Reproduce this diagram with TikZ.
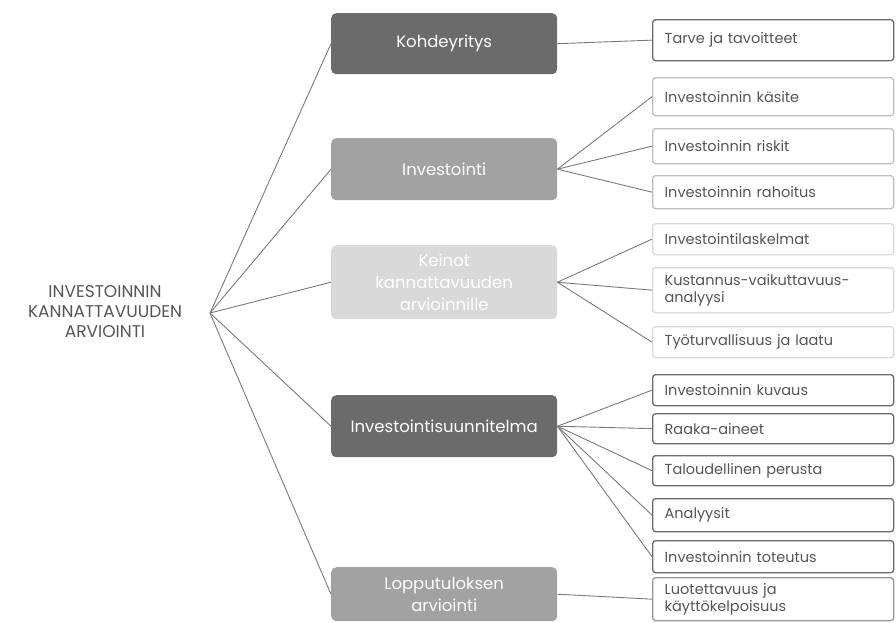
\documentclass[tikz,border=0pt]{standalone}
\usepackage{fontspec}
\setmainfont{Poppins}
\definecolor{dk}{HTML}{6B6B6B}
\definecolor{md}{HTML}{A2A2A2}
\definecolor{lt}{HTML}{D9D9D9}
\definecolor{ln}{HTML}{7A7A7A}
\definecolor{tx}{HTML}{555555}
\begin{document}
\begin{tikzpicture}[x=1pt,y=-1pt,
  mainbox/.style={rectangle, rounded corners=5pt, anchor=north west, minimum width=226pt, inner sep=2pt, text=white, align=center, font=\fontsize{16.5}{22}\selectfont},
  leaf/.style={draw, rounded corners=3pt, line width=1.3pt, fill=white, anchor=north west, minimum width=241pt, inner xsep=12pt, inner ysep=1pt, text width=217pt, align=left, text=tx, font=\fontsize{14.5}{17}\selectfont},
  conn/.style={draw=ln, line width=0.9pt}]
\useasboundingbox (0,0) rectangle (896,622);
\node[text=tx, align=center, font=\fontsize{17}{20}\selectfont] (root) at (105,312) {INVESTOINNIN\\KANNATTAVUUDEN\\ARVIOINTI};
\coordinate (hub) at (210,313);
% level 1
\node[mainbox, fill=dk, minimum height=61pt] (k) at (331,13) {Kohdeyritys};
\node[mainbox, fill=md, minimum height=62pt] (i) at (331,138) {Investointi};
\node[mainbox, fill=lt, minimum height=74pt] (m) at (331,245) {Keinot\\kannattavuuden\\arvioinnille};
\node[mainbox, fill=dk, minimum height=62pt] (s) at (331,395) {Investointisuunnitelma};
\node[mainbox, fill=md, minimum height=54pt] (l) at (331,567) {Lopputuloksen\\arviointi};
% leaves
\node[leaf, draw=dk, minimum height=41pt] (t1) at (652,19) {Tarve ja tavoitteet};
\node[leaf, draw=md!70, minimum height=38pt] (i1) at (652,77) {Investoinnin käsite};
\node[leaf, draw=md!70, minimum height=35pt] (i2) at (652,128) {Investoinnin riskit};
\node[leaf, draw=md!70, minimum height=33pt] (i3) at (652,175) {Investoinnin rahoitus};
\node[leaf, draw=lt, minimum height=31pt] (m1) at (652,223) {Investointilaskelmat};
\node[leaf, draw=lt, minimum height=45pt] (m2) at (652,267) {Kustannus-vaikuttavuus-\\analyysi};
\node[leaf, draw=lt, minimum height=31pt] (m3) at (652,326) {Työturvallisuus ja laatu};
\node[leaf, draw=dk, minimum height=31pt] (s1) at (652,374) {Investoinnin kuvaus};
\node[leaf, draw=dk, minimum height=30pt] (s2) at (652,413) {Raaka-aineet};
\node[leaf, draw=dk, minimum height=30pt] (s3) at (652,455) {Taloudellinen perusta};
\node[leaf, draw=dk, minimum height=33pt] (s4) at (652,498) {Analyysit};
\node[leaf, draw=dk, minimum height=32pt] (s5) at (652,540) {Investoinnin toteutus};
\node[leaf, draw=dk!70, minimum height=43pt] (l1) at (652,577) {Luotettavuus ja\\käyttökelpoisuus};
% connectors
\foreach \n in {k,i,m,s,l} \draw[conn] (hub) -- (\n.west);
\draw[conn] (k.east) -- (t1.west);
\foreach \n in {i1,i2,i3} \draw[conn] (i.east) -- (\n.west);
\foreach \n in {m1,m2,m3} \draw[conn] (m.east) -- (\n.west);
\foreach \n in {s1,s2,s3,s4,s5} \draw[conn] (s.east) -- (\n.west);
\draw[conn] (l.east) -- (l1.west);
\end{tikzpicture}
\end{document}
